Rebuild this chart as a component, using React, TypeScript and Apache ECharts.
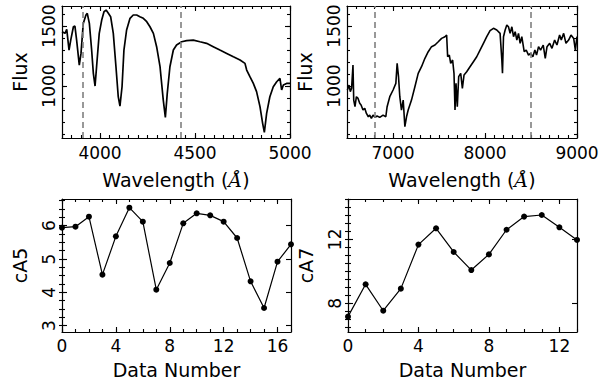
import React, { useEffect, useRef } from "react";
import * as echarts from "echarts";

// ---------- data ----------
const TL_WAVE = [3800, 3816, 3825, 3837, 3846, 3860, 3868, 3877, 3891, 3900, 3912, 3926, 3933, 3944, 3956, 3965, 3974, 3982, 3996, 4009, 4021, 4032, 4044, 4056, 4070, 4084, 4096, 4105, 4116, 4126, 4140, 4158, 4175, 4193, 4210, 4228, 4246, 4263, 4281, 4298, 4316, 4333, 4344, 4354, 4368, 4386, 4403, 4430, 4456, 4491, 4526, 4561, 4596, 4631, 4667, 4702, 4737, 4763, 4772, 4789, 4807, 4824, 4842, 4856, 4865, 4877, 4894, 4912, 4930, 4947, 4956, 4965, 4982, 5000];
const TL_FLUX = [1453, 1439, 1472, 1300, 1383, 1494, 1500, 1383, 1175, 1272, 1522, 1592, 1606, 1522, 1300, 1106, 1000, 1161, 1439, 1550, 1619, 1633, 1606, 1578, 1439, 1161, 911, 833, 994, 1300, 1467, 1564, 1592, 1592, 1578, 1564, 1536, 1494, 1439, 1328, 1161, 883, 739, 939, 1161, 1300, 1342, 1369, 1378, 1383, 1369, 1356, 1328, 1300, 1272, 1244, 1217, 1189, 1133, 1078, 1022, 953, 828, 689, 614, 772, 911, 994, 1036, 1064, 967, 1008, 1022, 1022];

const TR_WAVE = [6504, 6522, 6536, 6550, 6565, 6573, 6587, 6602, 6620, 6638, 6653, 6674, 6693, 6711, 6732, 6747, 6765, 6783, 6805, 6827, 6856, 6892, 6922, 6936, 6965, 7001, 7031, 7045, 7060, 7074, 7092, 7111, 7129, 7147, 7165, 7201, 7238, 7274, 7310, 7347, 7383, 7419, 7456, 7492, 7528, 7565, 7583, 7594, 7612, 7627, 7648, 7663, 7674, 7685, 7699, 7714, 7736, 7754, 7772, 7801, 7837, 7874, 7910, 7946, 7983, 8019, 8055, 8092, 8128, 8164, 8183, 8190, 8201, 8219, 8237, 8255, 8273, 8292, 8310, 8328, 8346, 8364, 8382, 8400, 8426, 8448, 8473, 8495, 8520, 8542, 8560, 8582, 8604, 8633, 8655, 8674, 8703, 8728, 8757, 8782, 8811, 8829, 8855, 8880, 8909, 8935, 8964, 8982, 9000];
const TR_FLUX = [967, 1008, 953, 981, 1175, 883, 828, 911, 897, 856, 842, 800, 814, 772, 744, 758, 731, 758, 739, 750, 739, 758, 744, 828, 911, 967, 1022, 1189, 1078, 911, 800, 883, 661, 744, 800, 883, 994, 1106, 1161, 1231, 1286, 1328, 1342, 1369, 1397, 1411, 1425, 1244, 1258, 1189, 1217, 1106, 800, 1022, 828, 1078, 1106, 981, 1092, 1119, 1161, 1203, 1244, 1300, 1356, 1411, 1461, 1481, 1467, 1439, 1217, 1106, 1411, 1467, 1508, 1494, 1439, 1494, 1411, 1453, 1383, 1439, 1356, 1411, 1286, 1300, 1258, 1272, 1244, 1300, 1258, 1328, 1300, 1342, 1231, 1328, 1356, 1314, 1383, 1342, 1425, 1383, 1439, 1356, 1383, 1425, 1397, 1300, 1411];

const TL_MARKS = [3910, 4425];
const TR_MARKS = [6800, 8500];

const CA5 = [5.94, 5.97, 6.27, 4.53, 5.68, 6.54, 6.12, 4.08, 4.88, 6.07, 6.37, 6.31, 6.12, 5.63, 4.33, 3.53, 4.92, 5.44];
const CA7 = [7.17, 9.19, 7.54, 8.92, 11.67, 12.69, 11.21, 10.08, 11.06, 12.6, 13.42, 13.52, 12.75, 11.96];

const TL_X_TICKS = [4000, 4500, 5000];
const TL_Y_TICKS = [1000, 1500];
const TR_X_TICKS = [7000, 8000, 9000];
const TR_Y_TICKS = [1000, 1500];
const BL_X_TICKS = [0, 4, 8, 12, 16];
const BL_Y_TICKS = [3, 4, 5, 6];
const BR_X_TICKS = [0, 4, 8, 12];
const BR_Y_TICKS = [8, 12];

// ---------- styling helpers ----------
const FONT = "DejaVu Sans";

function steps(min: number, max: number, step: number): number[] {
  const out: number[] = [];
  const start = Math.ceil(min / step - 1e-9) * step;
  for (let v = start; v <= max + 1e-9; v += step) out.push(+v.toFixed(6));
  return out;
}

function axes(
  dim: "x" | "y",
  gridIndex: number,
  min: number,
  max: number,
  major: number[],
  minorStep: number,
  name: string,
  nameGap: number,
  labelMargin: number,
  rich?: any
) {
  const minors = steps(min, max, minorStep);
  const pos = dim === "x" ? ["bottom", "top"] : ["left", "right"];
  const base = {
    type: "value",
    gridIndex,
    min,
    max,
    splitLine: { show: false },
    splitArea: { show: false },
  };
  const line = { show: true, onZero: false, lineStyle: { color: "#000", width: 1.2 } };
  const tickStyle = { color: "#000", width: 1.1 };
  return [
    {
      ...base,
      position: pos[0],
      axisLine: line,
      axisTick: { show: true, inside: true, length: 5, customValues: major, lineStyle: tickStyle },
      axisLabel: {
        show: true,
        customValues: major,
        formatter: (v: number) => String(v),
        color: "#000",
        fontSize: 17,
        fontFamily: FONT,
        margin: labelMargin,
        rotate: dim === "y" ? 90 : 0,
      },
      name,
      nameLocation: "middle",
      nameGap,
      nameTextStyle: { color: "#000", fontSize: 19, fontFamily: FONT, rich },
    },
    {
      ...base,
      position: pos[1],
      axisLine: line,
      axisTick: { show: true, inside: true, length: 5, customValues: major, lineStyle: tickStyle },
      axisLabel: { show: false },
    },
    {
      ...base,
      position: pos[0],
      axisLine: { show: false },
      axisTick: { show: true, inside: true, length: 3, customValues: minors, lineStyle: tickStyle },
      axisLabel: { show: false },
    },
    {
      ...base,
      position: pos[1],
      axisLine: { show: false },
      axisTick: { show: true, inside: true, length: 3, customValues: minors, lineStyle: tickStyle },
      axisLabel: { show: false },
    },
  ];
}

const angRich = {
  a: { fontStyle: "italic", fontFamily: "DejaVu Serif", fontSize: 19, color: "#000" },
};

function markLine(values: number[]) {
  return {
    silent: true,
    symbol: ["none", "none"],
    label: { show: false },
    lineStyle: { color: "#7f7f7f", type: [6, 4], width: 1.6 },
    data: values.map((v) => ({ xAxis: v })),
  };
}

export default function App() {
  const ref = useRef<HTMLDivElement>(null);
  useEffect(() => {
    if (!ref.current) return;
    const chart = echarts.init(ref.current, undefined, { renderer: "svg" });
    const xAxis = [
      ...axes("x", 0, 3800, 5000, TL_X_TICKS, 50, "Wavelength ({a|Å})", 32, 6, angRich),
      ...axes("x", 1, 6500, 9000, TR_X_TICKS, 100, "Wavelength ({a|Å})", 32, 6, angRich),
      ...axes("x", 2, 0, 17, BL_X_TICKS, 1, "Data Number", 28, 5),
      ...axes("x", 3, 0, 13, BR_X_TICKS, 1, "Data Number", 28, 5),
    ];
    const yAxis = [
      ...axes("y", 0, 567, 1667, TL_Y_TICKS, 100, "Flux", 33, 5),
      ...axes("y", 1, 567, 1667, TR_Y_TICKS, 100, "Flux", 33, 5),
      ...axes("y", 2, 2.81, 6.8, BL_Y_TICKS, 0.25, "cA5", 33, 5),
      ...axes("y", 3, 6.21, 14.52, BR_Y_TICKS, 0.5, "cA7", 33, 5),
    ];
    const option = {
      animation: false,
      backgroundColor: "#fff",
      grid: [
        { left: 62, top: 6, width: 228, height: 132 },
        { left: 347, top: 6, width: 230, height: 132 },
        { left: 62, top: 199, width: 229, height: 133 },
        { left: 348, top: 199, width: 229, height: 133 },
      ],
      xAxis,
      yAxis,
      series: [
        {
          type: "line",
          xAxisIndex: 0,
          yAxisIndex: 0,
          showSymbol: false,
          symbol: "none",
          lineStyle: { color: "#000", width: 1.7 },
          data: TL_WAVE.map((w, i) => [w, TL_FLUX[i]]),
          markLine: markLine(TL_MARKS),
          z: 3,
        },
        {
          type: "line",
          xAxisIndex: 4,
          yAxisIndex: 4,
          showSymbol: false,
          symbol: "none",
          lineStyle: { color: "#000", width: 1.6 },
          data: TR_WAVE.map((w, i) => [w, TR_FLUX[i]]),
          markLine: markLine(TR_MARKS),
          z: 3,
        },
        {
          type: "line",
          xAxisIndex: 8,
          yAxisIndex: 8,
          symbol: "circle",
          symbolSize: 6,
          itemStyle: { color: "#000" },
          lineStyle: { color: "#000", width: 1.2 },
          data: CA5.map((v, i) => [i, v]),
        },
        {
          type: "line",
          xAxisIndex: 12,
          yAxisIndex: 12,
          symbol: "circle",
          symbolSize: 6,
          itemStyle: { color: "#000" },
          lineStyle: { color: "#000", width: 1.2 },
          data: CA7.map((v, i) => [i, v]),
        },
      ],
    };
    chart.setOption(option as any);
    return () => chart.dispose();
  }, []);
  return (
    <div
      ref={ref}
      style={{ position: "fixed", left: 0, top: 0, width: 613, height: 386, background: "#fff" }}
    />
  );
}
